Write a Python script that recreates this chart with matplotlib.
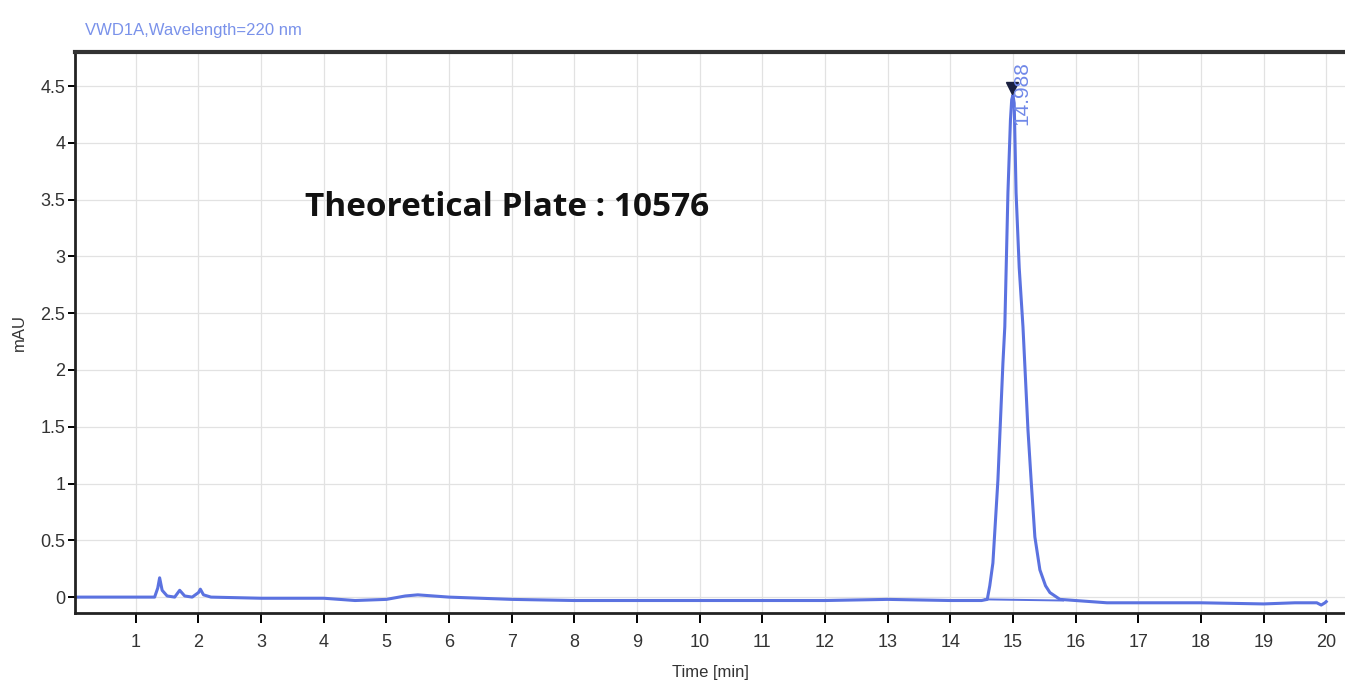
import numpy as np
import matplotlib.pyplot as plt

# -----------------------------
# Chromatogram trace
# -----------------------------
time_min = [0.03, 0.5, 1.0, 1.3, 1.35, 1.38, 1.42, 1.5, 1.62, 1.7, 1.78, 1.9,
            2.0, 2.03, 2.08, 2.2, 3.0, 4.0, 4.5, 5.0, 5.3, 5.5, 6.0, 7.0, 8.0,
            9.0, 10.0, 11.0, 12.0, 13.0, 14.0, 14.5, 14.59, 14.63, 14.68, 14.76,
            14.84, 14.87, 14.92, 14.96, 14.98, 15.0, 15.02, 15.05, 15.1, 15.16,
            15.24, 15.29, 15.35, 15.43, 15.52, 15.59, 15.75, 16.0, 16.5, 17.0,
            18.0, 19.0, 19.5, 19.85, 19.92, 19.98, 20.0]
signal_mau = [0.0, 0.0, 0.0, 0.0, 0.08, 0.17, 0.06, 0.01, 0.0, 0.06, 0.01, 0.0,
              0.04, 0.07, 0.02, 0.0, -0.01, -0.01, -0.03, -0.02, 0.01, 0.02, 0.0,
              -0.02, -0.03, -0.03, -0.03, -0.03, -0.03, -0.02, -0.03, -0.03, -0.02,
              0.1, 0.30, 1.03, 2.06, 2.38, 3.56, 4.2, 4.38, 4.42, 4.35, 3.56, 2.9,
              2.38, 1.47, 1.03, 0.53, 0.24, 0.10, 0.04, -0.02, -0.03, -0.05, -0.05,
              -0.05, -0.06, -0.05, -0.05, -0.07, -0.05, -0.04]

# integration baseline under main peak
base_t = [14.55, 15.8]
base_y = [-0.02, -0.03]

peak_rt = 14.988
peak_top = 4.48
peak_label = "14.988"

title_txt = "VWD1A,Wavelength=220 nm"
note_txt = "Theoretical Plate : 10576"

x_ticks = list(range(1, 21))
y_ticks = [0, 0.5, 1, 1.5, 2, 2.5, 3, 3.5, 4, 4.5]
y_ticklabels = ["0", "0.5", "1", "1.5", "2", "2.5", "3", "3.5", "4", "4.5"]

# -----------------------------
# Plot
# -----------------------------
line_col = "#5b72e0"
tick_font = ["Liberation Sans Narrow", "Liberation Sans", "DejaVu Sans"]

fig = plt.figure(figsize=(13.45, 6.87), dpi=100)
ax = fig.add_axes([0.0558, 0.1077, 0.9442, 0.8166])

ax.plot(time_min, signal_mau, color=line_col, lw=2.2)
ax.plot(base_t, base_y, color=line_col, lw=1.4)
ax.plot([peak_rt], [peak_top], marker="v", color="#1a2040", ms=8, ls="none")
ax.text(peak_rt + 0.15, peak_top - 0.32, peak_label, rotation=90,
        color="#7088e8", fontsize=15, family=tick_font, ha="center", va="bottom",
        clip_on=False)

ax.text(3.70, 3.43, note_txt, fontsize=24, fontweight="bold",
        family=["Open Sans", "Noto Sans", "DejaVu Sans"], va="center", ha="left",
        color="#111111")

ax.set_xlim(0.03, 20.30)
ax.set_ylim(-0.14, 4.8)
ax.set_xticks(x_ticks)
ax.set_yticks(y_ticks)
ax.set_yticklabels(y_ticklabels)
for lab in ax.get_xticklabels() + ax.get_yticklabels():
    lab.set_family(tick_font)
    lab.set_fontsize(13)
    lab.set_color("#333333")
ax.tick_params(axis="x", direction="out", length=7, width=1.4, pad=8)
ax.tick_params(axis="y", direction="out", length=5, width=1.4, pad=2)

ax.grid(True, color="#e2e2e2", lw=0.9)
ax.set_axisbelow(True)
for side in ["left", "bottom"]:
    ax.spines[side].set_linewidth(2.0)
    ax.spines[side].set_color("#222222")
ax.spines["top"].set_linewidth(3.0)
ax.spines["top"].set_color("#333333")
ax.spines["right"].set_visible(False)

ax.set_xlabel("Time [min]", family=tick_font, fontsize=12, color="#333333", labelpad=10)
ax.set_ylabel("mAU", family=tick_font, fontsize=12, color="#333333", labelpad=10)

fig.text(0.063, 0.955, title_txt, family=tick_font, fontsize=12, color="#7a92ea",
         ha="left", va="center")

fig.savefig("out.png", dpi=100)
plt.close(fig)
